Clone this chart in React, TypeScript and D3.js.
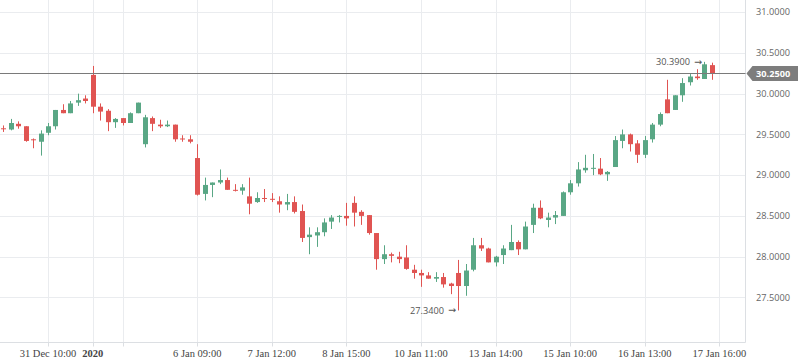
import React from "react";
import * as d3 from "d3";

const opens = [29.575,29.56,29.63,29.60,29.44,29.41,29.52,29.60,29.80,29.76,29.89,29.94,30.23,29.84,29.79,29.65,29.70,29.64,29.76,29.38,29.70,29.62,29.60,29.62,29.45,29.44,29.21,28.77,28.88,28.91,28.94,28.82,28.81,28.74,28.67,28.72,28.71,28.68,28.64,28.67,28.56,28.24,28.26,28.30,28.43,28.49,28.50,28.66,28.55,28.51,28.29,27.97,28.03,28.00,27.99,27.84,27.80,27.77,27.73,27.75,27.67,27.80,27.64,27.84,28.14,28.10,27.93,28.02,28.08,28.18,28.09,28.39,28.60,28.45,28.48,28.50,28.79,28.90,29.06,29.08,29.08,29.01,29.10,29.42,29.50,29.39,29.25,29.44,29.62,29.93,29.80,29.98,30.14,30.21,30.18,30.35];
const highs = [29.61,29.69,29.66,29.60,29.45,29.55,29.64,29.80,29.87,29.91,30.00,29.98,30.34,29.88,29.81,29.70,29.70,29.77,29.89,29.74,29.72,29.68,29.67,29.62,29.49,29.49,29.38,28.97,28.91,29.07,28.97,28.89,28.89,28.97,28.79,28.83,28.78,28.74,28.77,28.74,28.64,28.36,28.36,28.47,28.51,28.51,28.66,28.74,28.57,28.51,28.29,28.14,28.05,28.06,28.14,27.90,27.84,27.81,27.81,27.80,27.68,27.96,27.91,28.23,28.23,28.11,28.01,28.14,28.39,28.20,28.43,28.65,28.69,28.54,28.56,28.80,28.94,29.16,29.25,29.26,29.21,29.05,29.48,29.56,29.51,29.43,29.48,29.64,29.77,30.17,29.98,30.19,30.24,30.30,30.39,30.38];
const lows = [29.53,29.55,29.57,29.41,29.33,29.24,29.49,29.56,29.76,29.76,29.85,29.88,29.76,29.67,29.54,29.58,29.61,29.64,29.76,29.34,29.54,29.58,29.59,29.41,29.41,29.39,28.75,28.69,28.73,28.89,28.82,28.80,28.76,28.52,28.66,28.67,28.67,28.54,28.57,28.53,28.18,28.03,28.12,28.25,28.34,28.42,28.38,28.37,28.39,28.27,27.84,27.91,27.93,27.92,27.84,27.73,27.63,27.73,27.69,27.62,27.54,27.34,27.52,27.82,28.07,27.93,27.88,27.91,28.08,28.02,28.09,28.29,28.46,28.36,28.40,28.50,28.76,28.86,29.03,29.00,29.00,28.93,29.10,29.33,29.29,29.15,29.21,29.40,29.60,29.76,29.80,29.90,30.10,30.17,30.18,30.17];
const closes = [29.565,29.64,29.60,29.42,29.43,29.51,29.60,29.80,29.76,29.88,29.92,29.91,29.84,29.78,29.65,29.69,29.64,29.76,29.89,29.71,29.63,29.60,29.62,29.44,29.44,29.41,28.76,28.88,28.91,28.94,28.82,28.81,28.85,28.65,28.72,28.71,28.70,28.64,28.67,28.55,28.23,28.27,28.30,28.42,28.48,28.50,28.47,28.54,28.50,28.29,27.97,28.03,28.01,27.97,27.85,27.80,27.77,27.73,27.75,27.66,27.64,27.64,27.83,28.14,28.10,27.93,28.00,28.10,28.18,28.09,28.37,28.60,28.47,28.48,28.51,28.79,28.90,29.07,29.09,29.09,29.01,29.04,29.43,29.50,29.38,29.25,29.43,29.62,29.75,29.76,29.98,30.13,30.21,30.19,30.36,30.25];

const tickIndex = [6, 12, 16, 26, 36, 46, 56, 66, 76, 86, 96];
const tickLabels = ["31 Dec 10:00", "2020", "", "6 Jan 09:00", "7 Jan 12:00", "8 Jan 15:00", "10 Jan 11:00", "13 Jan 14:00", "15 Jan 10:00", "16 Jan 13:00", "17 Jan 16:00"];
const yTicks = [27.5, 28.0, 28.5, 29.0, 29.5, 30.0, 30.5, 31.0];
const lastPrice = 30.25;
const maxIndex = 94;
const minIndex = 61;

const W = 798, H = 363;
const plotRight = 745.5, plotBottom = 342.5;

export default function App() {
  const x = d3.scaleLinear().domain([-0.44, 99.5]).range([0, plotRight]);
  const y = d3.scaleLinear().domain([26.947, 31.149]).range([plotBottom, 0]);
  const green = "#59a785";
  const red = "#e05452";
  const bw = 5;
  const fmt = d3.format(".4f");
  const ly = Math.round(y(lastPrice)) + 0.5;
  const sans = "'Open Sans', sans-serif";
  const ann = (idx: number, val: number) => {
    const ax = Math.round(x(idx)) - 2;
    const ay = y(val);
    return (
      <g key={"ann" + idx}>
        <text x={ax - 12} y={ay} dy="0.35em" textAnchor="end" fontFamily={sans} fontSize={9.2} fill="#555">{fmt(val)}</text>
        <text x={ax} y={ay} dy="0.3em" textAnchor="end" fontFamily="'DejaVu Sans', sans-serif" fontSize={9.5} fill="#555">→</text>
      </g>
    );
  };
  return (
    <svg width={W} height={H} style={{ position: "absolute", left: 0, top: 0, background: "#fff" }}>
      {yTicks.map((t) => (
        <line key={"gy" + t} x1={0} x2={plotRight} y1={Math.round(y(t)) + 0.5} y2={Math.round(y(t)) + 0.5} stroke="#eaecef" strokeWidth={1} />
      ))}
      {tickIndex.map((t) => (
        <line key={"gx" + t} x1={Math.round(x(t)) + 0.5} x2={Math.round(x(t)) + 0.5} y1={0} y2={plotBottom} stroke="#eaecef" strokeWidth={1} />
      ))}
      <line x1={0} x2={plotRight} y1={plotBottom} y2={plotBottom} stroke="#dcdfe3" />
      <line x1={plotRight} x2={plotRight} y1={0} y2={plotBottom} stroke="#dcdfe3" />
      {tickIndex.map((t) => (
        <line key={"tk" + t} x1={Math.round(x(t)) + 0.5} x2={Math.round(x(t)) + 0.5} y1={plotBottom} y2={plotBottom + 4} stroke="#dcdfe3" />
      ))}
      {opens.map((o, i) => {
        const c = closes[i];
        const up = c >= o;
        const col = up ? green : red;
        const cx = Math.round(x(i)) + 0.5;
        const top = y(Math.max(o, c));
        const bot = y(Math.min(o, c));
        const hgt = Math.max(1, bot - top);
        return (
          <g key={"c" + i}>
            <line x1={cx} x2={cx} y1={y(highs[i])} y2={y(lows[i])} stroke={col} strokeWidth={1} />
            <rect x={cx - bw / 2} y={top} width={bw} height={hgt} fill={col} />
          </g>
        );
      })}
      <line x1={0} x2={plotRight} y1={ly} y2={ly} stroke="#7a7a7a" strokeWidth={1} />
      {yTicks.map((t) => (
        <text key={"yl" + t} x={756} y={y(t)} dy="0.35em" fontFamily={sans} fontSize={9.2} fill="#666">{fmt(t)}</text>
      ))}
      <path d={`M${plotRight + 1},${ly} L${plotRight + 7},${ly - 7.5} L${W},${ly - 7.5} L${W},${ly + 7.5} L${plotRight + 7},${ly + 7.5} Z`} fill="#7d7d7d" />
      <text x={756} y={ly} dy="0.35em" fontFamily={sans} fontSize={9.2} fontWeight="bold" fill="#fff">{fmt(lastPrice)}</text>
      {tickIndex.map((t, i) => (
        <text key={"xl" + t} x={x(t)} y={357} textAnchor="middle" fontFamily="'Liberation Serif', serif" fontSize={10.5} fontWeight={tickLabels[i] === "2020" ? "bold" : "normal"} fill="#444">{tickLabels[i]}</text>
      ))}
      {ann(maxIndex, highs[maxIndex])}
      {ann(minIndex, lows[minIndex])}
    </svg>
  );
}
